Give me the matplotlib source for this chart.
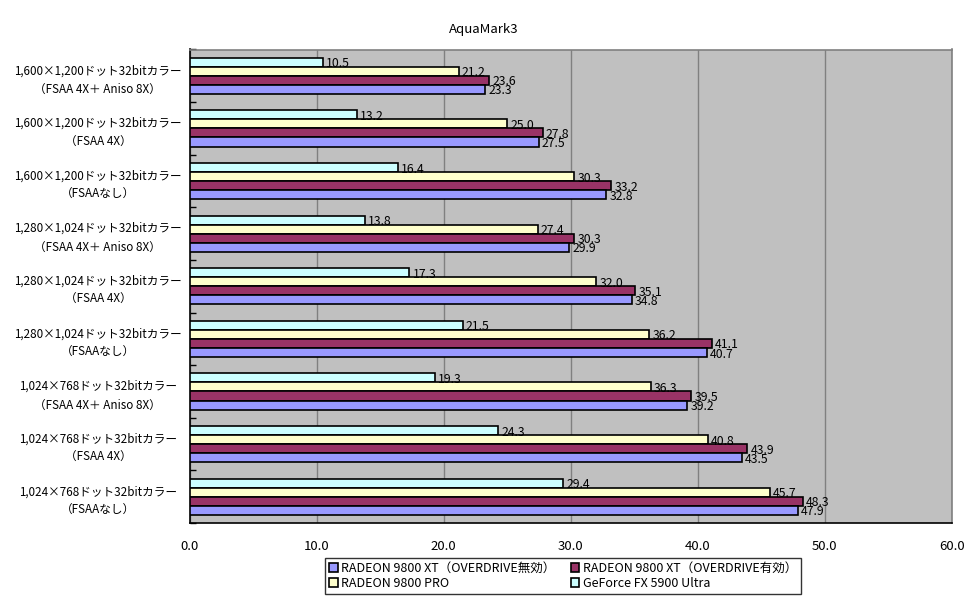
import matplotlib
matplotlib.use("Agg")
import matplotlib.pyplot as plt
import numpy as np

plt.rcParams['font.family'] = ['Noto Sans CJK JP', 'DejaVu Sans']

categories = [
    "1,600×1,200ドット32bitカラー\n（FSAA 4X＋ Aniso 8X）",
    "1,600×1,200ドット32bitカラー\n（FSAA 4X）",
    "1,600×1,200ドット32bitカラー\n（FSAAなし）",
    "1,280×1,024ドット32bitカラー\n（FSAA 4X＋ Aniso 8X）",
    "1,280×1,024ドット32bitカラー\n（FSAA 4X）",
    "1,280×1,024ドット32bitカラー\n（FSAAなし）",
    "1,024×768ドット32bitカラー\n（FSAA 4X＋ Aniso 8X）",
    "1,024×768ドット32bitカラー\n（FSAA 4X）",
    "1,024×768ドット32bitカラー\n（FSAAなし）",
]
geforce = [10.5, 13.2, 16.4, 13.8, 17.3, 21.5, 19.3, 24.3, 29.4]
pro = [21.2, 25.0, 30.3, 27.4, 32.0, 36.2, 36.3, 40.8, 45.7]
xt_od_on = [23.6, 27.8, 33.2, 30.3, 35.1, 41.1, 39.5, 43.9, 48.3]
xt_od_off = [23.3, 27.5, 32.8, 29.9, 34.8, 40.7, 39.2, 43.5, 47.9]

names = ["RADEON 9800 XT（OVERDRIVE無効）", "RADEON 9800 XT（OVERDRIVE有効）",
         "RADEON 9800 PRO", "GeForce FX 5900 Ultra"]
x_ticks = [0, 10, 20, 30, 40, 50, 60]

fig = plt.figure(figsize=(9.72, 6.04), dpi=100)
ax = fig.add_axes([189.5/972, 1-523/604, (951.7-189.5)/972, (523-49.5)/604])
ax.set_facecolor('#C0C0C0')

y = np.arange(len(categories))
h = 0.172
series = [
    (geforce, '#CCFFFF', names[3], -1.5),
    (pro, '#FFFFCC', names[2], -0.5),
    (xt_od_on, '#993366', names[1], 0.5),
    (xt_od_off, '#9999FF', names[0], 1.5),
]
handles = {}
for vals, col, name, off in series:
    bars = ax.barh(y + off*h, vals, height=h, color=col, edgecolor='black',
                   linewidth=1.2, label=name, zorder=3)
    handles[name] = bars
    for yy, v in zip(y + off*h, vals):
        ax.text(v + 0.25, yy + 0.03, f"{v:.1f}", va='center', ha='left',
                fontsize=8.8, zorder=4)

ax.set_xlim(0, 60)
ax.set_ylim(8.5, -0.5)
ax.set_xticks(x_ticks)
ax.set_xticklabels([f"{t:.1f}" for t in x_ticks], fontsize=9.5)
ax.tick_params(axis='x', length=0, pad=12)
ax.xaxis.grid(True, color='#808080', linewidth=1, zorder=0)
ax.set_axisbelow(True)

ax.set_yticks(y)
ax.set_yticklabels(categories, fontsize=8.4, ha='center', linespacing=1.55)
ax.tick_params(axis='y', which='major', length=0, pad=66)
ax.set_yticks(np.arange(len(categories)+1) - 0.5, minor=True)
ax.tick_params(axis='y', which='minor', length=4, direction='in', width=1)

for s in ['left', 'bottom']:
    ax.spines[s].set_color('black')
    ax.spines[s].set_linewidth(1.2)
for s in ['top', 'right']:
    ax.spines[s].set_color('#808080')
    ax.spines[s].set_linewidth(1.2)

fig.text(484/972, 1-30/604, "AquaMark3", ha='center', va='center', fontsize=9.5)

order = [names[0], names[2], names[1], names[3]]
leg = fig.legend([handles[n] for n in order], order, ncol=2,
                 loc='center', bbox_to_anchor=(563/972, 1-576/604),
                 frameon=True, fancybox=False, edgecolor='black',
                 fontsize=9, handlelength=0.7, handleheight=0.7,
                 handletextpad=0.3, columnspacing=1.2, borderpad=0.3,
                 labelspacing=0.15)
leg.get_frame().set_linewidth(1.0)

fig.savefig("out.png", dpi=100)
